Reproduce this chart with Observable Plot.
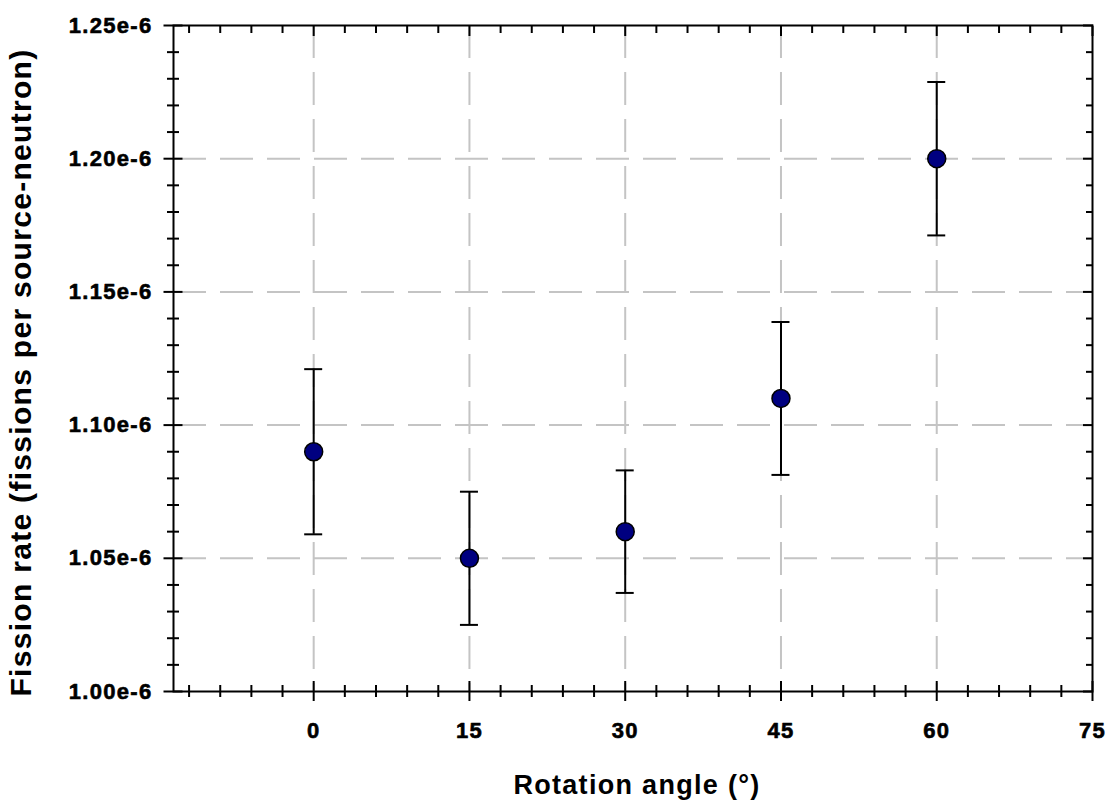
<!DOCTYPE html>
<html><head><meta charset="utf-8">
<script src="https://cdn.jsdelivr.net/npm/d3@7"></script>
<script src="https://cdn.jsdelivr.net/npm/@observablehq/plot@0.6"></script>
<style>body{margin:0;background:#fff}</style>
</head><body><div id="chart"></div>
<script>
const angles = [0, 15, 30, 45, 60];
const rates = [1.09e-6, 1.05e-6, 1.06e-6, 1.11e-6, 1.20e-6];
const errors = [0.031e-6, 0.025e-6, 0.023e-6, 0.0287e-6, 0.0288e-6];
const xTicks = [0, 15, 30, 45, 60, 75];
const yTicks = [1.00e-6, 1.05e-6, 1.10e-6, 1.15e-6, 1.20e-6, 1.25e-6];
const xGrid = [0, 15, 30, 45, 60];
const yGrid = [1.05e-6, 1.10e-6, 1.15e-6, 1.20e-6];
const xMinorTicks = [-12, -9, -6, -3, 3, 6, 9, 12, 18, 21, 24, 27, 33, 36, 39, 42, 48, 51, 54, 57, 63, 66, 69, 72];
const yMinorTicks = [1.01, 1.02, 1.03, 1.04, 1.06, 1.07, 1.08, 1.09, 1.11, 1.12, 1.13, 1.14, 1.16, 1.17, 1.18, 1.19, 1.21, 1.22, 1.23, 1.24].map(v => v * 1e-6);
const xTitle = "Rotation angle (°)";
const yTitle = "Fission rate (fissions per source-neutron)";

const data = angles.map((a, i) => ({angle: a, rate: rates[i], lo: rates[i] - errors[i], hi: rates[i] + errors[i]}));
const gridStyle = {stroke: "#c4c4c4", strokeOpacity: 1, strokeWidth: 2, strokeDasharray: "33,14"};
const blank = () => "";

const chart = Plot.plot({
  width: 1111, height: 803,
  marginLeft: 173, marginRight: 19, marginTop: 25, marginBottom: 112,
  style: {fontFamily: "'Liberation Sans', Arial, sans-serif", fontWeight: "bold", fontSize: "22px", letterSpacing: "1.3px", color: "black", background: "white"},
  x: {domain: [-13.5, 75]},
  y: {domain: [1.0e-6, 1.25e-6]},
  marks: [
    Plot.gridX(xGrid, gridStyle),
    Plot.gridY(yGrid, gridStyle),
    Plot.ruleX(data, {x: "angle", y1: "lo", y2: "hi", stroke: "black", strokeWidth: 2}),
    Plot.ruleY(data, {y: "hi", x1: "angle", x2: "angle", insetLeft: -9, insetRight: -9, stroke: "black", strokeWidth: 2}),
    Plot.ruleY(data, {y: "lo", x1: "angle", x2: "angle", insetLeft: -9, insetRight: -9, stroke: "black", strokeWidth: 2}),
    Plot.dot(data, {x: "angle", y: "rate", r: 9, fill: "#000080", stroke: "black", strokeWidth: 1.5}),
    Plot.frame({stroke: "black", strokeWidth: 2}),
    // bottom ticks (crossing)
    Plot.axisX(xTicks, {anchor: "bottom", tickSize: 20, dy: -10, tickFormat: blank, strokeWidth: 2, label: null}),
    Plot.axisX(xMinorTicks, {anchor: "bottom", tickSize: 12, dy: -6, tickFormat: blank, strokeWidth: 2, label: null}),
    // top ticks (inward)
    Plot.axisX(xTicks, {anchor: "top", tickSize: 10, dy: 10, tickFormat: blank, strokeWidth: 2, label: null}),
    Plot.axisX(xMinorTicks, {anchor: "top", tickSize: 7, dy: 7, tickFormat: blank, strokeWidth: 2, label: null}),
    // left ticks (crossing)
    Plot.axisY(yTicks, {anchor: "left", tickSize: 19, dx: 9.5, tickFormat: blank, strokeWidth: 2, label: null}),
    Plot.axisY(yMinorTicks, {anchor: "left", tickSize: 12, dx: 6, tickFormat: blank, strokeWidth: 2, label: null}),
    // right ticks (inward)
    Plot.axisY(yTicks, {anchor: "right", tickSize: 10, dx: -10, tickFormat: blank, strokeWidth: 2, label: null}),
    Plot.axisY(yMinorTicks, {anchor: "right", tickSize: 7, dx: -7, tickFormat: blank, strokeWidth: 2, label: null}),
    // tick labels
    Plot.axisX(xTicks, {anchor: "bottom", tickSize: 0, tickPadding: 31, label: null, fontSize: 22, textStroke: "black", textStrokeWidth: 0.6, textStrokeOpacity: 1}),
    Plot.axisY(yTicks, {anchor: "left", tickSize: 0, tickPadding: 21, label: null, fontSize: 22, textStroke: "black", textStrokeWidth: 0.6, textStrokeOpacity: 1, tickFormat: d => (d * 1e6).toFixed(2) + "e-6"}),
    // titles
    Plot.text([xTitle], {text: d => d, frameAnchor: "bottom", dy: 94, dx: 4, fontSize: 27, lineAnchor: "middle", textAnchor: "middle"}),
    Plot.text([yTitle], {text: d => d, frameAnchor: "left", rotate: -90, dx: -152, dy: 14, fontSize: 30, lineAnchor: "middle", textAnchor: "middle"})
  ]
});
document.getElementById("chart").appendChild(chart);
</script>
</body></html>
